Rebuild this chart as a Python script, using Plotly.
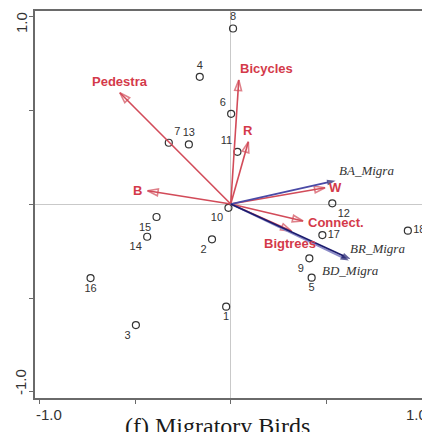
import plotly.graph_objects as go

# Site scores on the first two ordination axes
site_ids = ["1", "2", "3", "4", "5", "6", "7", "8", "9", "10",
            "11", "12", "13", "14", "15", "16", "17", "18"]
site_x = [-0.024, -0.098, -0.496, -0.162, 0.423, 0.002, -0.324, 0.012, 0.411, -0.012,
          0.035, 0.531, -0.219, -0.437, -0.388, -0.733, 0.479, 0.926]
site_y = [-0.546, -0.188, -0.644, 0.677, -0.392, 0.480, 0.326, 0.934, -0.289, -0.020,
          0.278, 0.004, 0.317, -0.174, -0.069, -0.394, -0.165, -0.142]

# Environmental variable arrows
env_names = ["Pedestra", "Bicycles", "R", "B", "W", "Connect.", "Bigtrees"]
env_x = [-0.580, 0.042, 0.092, -0.435, 0.493, 0.378, 0.317]
env_y = [0.592, 0.660, 0.331, 0.071, 0.087, -0.090, -0.144]

# Species arrows
spp_names = ["BA_Migra", "BR_Migra", "BD_Migra"]
spp_x = [0.548, 0.618, 0.627]
spp_y = [0.124, -0.301, -0.293]

# Axis ticks
tick_vals = [-1.0, -0.5, 0.0, 0.5, 1.0]
end_ticks = ["-1.0", "1.0"]

# --- styling -------------------------------------------------------------
W, H = 422, 432
M = dict(l=35, r=0, t=11, b=34)
X_RANGE = [-1.0235, 1.0]
Y_RANGE = [-1.032, 1.027]

RED_LINE = "#d24b59"
RED_TEXT = "#d43a4a"
NAVY = "#1c1c6e"
SPP_COLORS = ["#4a4aa6", "#8c8cc8", "#1c1c6e"]
INK = "#333333"
AXIS = "#6a6a6a"

site_text_pos = {
    "1": "bottom center", "2": "bottom left", "3": "bottom left", "4": "top center",
    "5": "bottom center", "6": "top left", "7": "top right", "8": "top center",
    "9": "bottom left", "10": "bottom left", "11": "top left", "12": "bottom right",
    "13": "top center", "14": "bottom left", "15": "bottom left", "16": "bottom center",
    "17": "middle right", "18": "middle right",
}

env_label_style = {
    "Pedestra": dict(xanchor="center", yanchor="bottom", xshift=0, yshift=2),
    "Bicycles": dict(xanchor="left", yanchor="bottom", xshift=-1, yshift=2),
    "R": dict(xanchor="center", yanchor="bottom", xshift=0, yshift=2),
    "B": dict(xanchor="right", yanchor="middle", xshift=-4, yshift=0),
    "W": dict(xanchor="left", yanchor="middle", xshift=2, yshift=0),
    "Connect.": dict(xanchor="left", yanchor="middle", xshift=3, yshift=-2),
    "Bigtrees": dict(xanchor="center", yanchor="top", xshift=-1, yshift=-3),
}
spp_label_style = {
    "BA_Migra": dict(xanchor="left", yanchor="bottom", xshift=1, yshift=1),
    "BR_Migra": dict(xanchor="left", yanchor="bottom", xshift=-1, yshift=3),
    "BD_Migra": dict(xanchor="center", yanchor="top", xshift=0, yshift=-2),
}

SANS = "Liberation Sans, Arial, sans-serif"
SERIF = "Liberation Serif, Times New Roman, serif"

fig = go.Figure()

# sites as open circles with numeric labels
fig.add_trace(go.Scatter(
    x=site_x, y=site_y, mode="markers+text",
    text=site_ids,
    textposition=[site_text_pos[s] for s in site_ids],
    textfont=dict(family=SANS, size=11, color=INK),
    marker=dict(symbol="circle-open", size=7, color=INK, line=dict(width=1.2)),
    hoverinfo="skip", showlegend=False,
))

# environmental arrows: red lines with open heads
for name, ex, ey in zip(env_names, env_x, env_y):
    fig.add_trace(go.Scatter(
        x=[0, ex], y=[0, ey], mode="lines+markers",
        line=dict(color=RED_LINE, width=1.6),
        marker=dict(symbol="arrow-open", size=[0, 11], angleref="previous",
                    color=RED_LINE, line=dict(width=1.6, color=RED_LINE)),
        hoverinfo="skip", showlegend=False,
    ))

# species arrows: blue lines with solid heads
for name, sx, sy, col in zip(spp_names, spp_x, spp_y, SPP_COLORS):
    fig.add_trace(go.Scatter(
        x=[0, sx], y=[0, sy], mode="lines+markers",
        line=dict(color=col, width=1.8),
        marker=dict(symbol="arrow", size=[0, 9], angleref="previous",
                    color=NAVY, line=dict(width=0)),
        hoverinfo="skip", showlegend=False,
    ))

annotations = []
for name, ex, ey in zip(env_names, env_x, env_y):
    annotations.append(dict(
        x=ex, y=ey, xref="x", yref="y", text=f"<b>{name}</b>", showarrow=False,
        font=dict(family=SANS, size=13, color=RED_TEXT), **env_label_style[name]))
for name, sx, sy in zip(spp_names, spp_x, spp_y):
    annotations.append(dict(
        x=sx, y=sy, xref="x", yref="y", text=f"<i>{name}</i>", showarrow=False,
        font=dict(family=SERIF, size=13, color=INK), **spp_label_style[name]))

# end labels of the axes
annotations.append(dict(x=tick_vals[0], y=0, xref="x", yref="paper", text=end_ticks[0],
                        showarrow=False, xanchor="center", yanchor="top", xshift=10, yshift=-6,
                        font=dict(family=SANS, size=15, color=INK)))
annotations.append(dict(x=tick_vals[-1], y=0, xref="x", yref="paper", text=end_ticks[1],
                        showarrow=False, xanchor="center", yanchor="top", xshift=-6, yshift=-6,
                        font=dict(family=SANS, size=15, color=INK)))
annotations.append(dict(x=0, y=tick_vals[-1], xref="paper", yref="y", text=end_ticks[1],
                        showarrow=False, xanchor="center", yanchor="middle", textangle=-90,
                        xshift=-14, yshift=-7, font=dict(family=SANS, size=15, color=INK)))
annotations.append(dict(x=0, y=tick_vals[0], xref="paper", yref="y", text=end_ticks[0],
                        showarrow=False, xanchor="center", yanchor="middle", textangle=-90,
                        xshift=-14, yshift=10, font=dict(family=SANS, size=15, color=INK)))

# panel caption
annotations.append(dict(x=0.5, y=0, xref="paper", yref="paper", text="(f) Migratory Birds",
                        showarrow=False, xanchor="center", yanchor="top", xshift=-11, yshift=-13,
                        font=dict(family=SERIF, size=24, color="#1a1a1a")))

fig.update_layout(
    width=W, height=H, margin=M,
    paper_bgcolor="white", plot_bgcolor="white",
    annotations=annotations,
    xaxis=dict(range=X_RANGE, tickvals=tick_vals, showticklabels=False,
               ticks="outside", ticklen=4, tickcolor=AXIS, tickwidth=1.2,
               showgrid=False, zeroline=True, zerolinecolor="#c9c9c9", zerolinewidth=1,
               showline=True, linecolor=AXIS, linewidth=1.5, mirror=True),
    yaxis=dict(range=Y_RANGE, tickvals=tick_vals, showticklabels=False,
               ticks="outside", ticklen=4, tickcolor=AXIS, tickwidth=1.2,
               showgrid=False, zeroline=True, zerolinecolor="#c9c9c9", zerolinewidth=1,
               showline=True, linecolor=AXIS, linewidth=1.5, mirror=False),
)

fig.write_html("out.html", config=dict(displayModeBar=False))
